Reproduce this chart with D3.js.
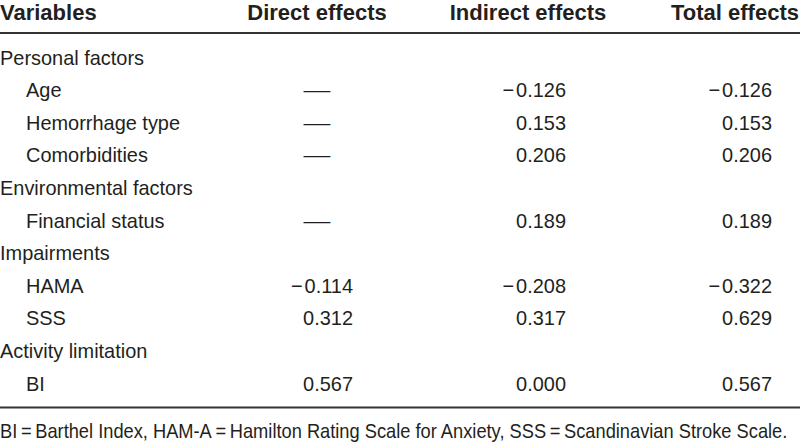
<!DOCTYPE html>
<html><head><meta charset="utf-8">
<script src="https://cdn.jsdelivr.net/npm/d3@7"></script>
<style>
body{margin:0;background:#fff;}
svg text{font-family:"Liberation Sans",Arial,sans-serif;fill:#231f20;}
</style></head>
<body><svg id="c" width="800" height="447"></svg>
<script>
const headers = ["Variables", "Direct effects", "Indirect effects", "Total effects"];
const rowLabels = ["Personal factors", "Age", "Hemorrhage type", "Comorbidities", "Environmental factors", "Financial status", "Impairments", "HAMA", "SSS", "Activity limitation", "BI"];
const isGroup = [true, false, false, false, true, false, true, false, false, true, false];
const directEffects = [null, "—", "—", "—", null, "—", null, "−0.114", "0.312", null, "0.567"];
const indirectEffects = [null, "−0.126", "0.153", "0.206", null, "0.189", null, "−0.208", "0.317", null, "0.000"];
const totalEffects = [null, "−0.126", "0.153", "0.206", null, "0.189", null, "−0.322", "0.629", null, "0.567"];
const footnote = "BI\u2009=\u2009Barthel Index, HAM-A\u2009=\u2009Hamilton Rating Scale for Anxiety, SSS\u2009=\u2009Scandinavian Stroke Scale.";

const svg = d3.select("#c");
const y = d3.scaleLinear().domain([0, rowLabels.length - 1]).range([64.5, 390.5]);
const colCenter = d3.scaleOrdinal().domain([1, 2, 3]).range([317, 528, 735]);
const colRight = d3.scaleOrdinal().domain([1, 2, 3]).range([353, 566, 772]);
const fs = 21, sx = 0.95;

// header
svg.selectAll("text.h").data(headers).join("text").attr("class", "h")
  .attr("x", (d, i) => i === 0 ? 0 : colCenter(i))
  .attr("y", 20)
  .attr("text-anchor", (d, i) => i === 0 ? "start" : "middle")
  .style("font-weight", "bold").style("font-size", "22px")
  .text(d => d);

svg.append("line").attr("x1", 0).attr("x2", 800).attr("y1", 33).attr("y2", 33)
  .attr("stroke", "#333").attr("stroke-width", 2);
svg.append("line").attr("x1", 0).attr("x2", 800).attr("y1", 407.5).attr("y2", 407.5)
  .attr("stroke", "#333").attr("stroke-width", 2);

svg.selectAll("text.r").data(rowLabels).join("text").attr("class", "r")
  .attr("transform", (d, i) => `translate(${isGroup[i] ? 0 : 26},${y(i)}) scale(${sx},1)`)
  .style("font-size", fs + "px")
  .text(d => d);

[directEffects, indirectEffects, totalEffects].forEach((vals, k) => {
  const col = k + 1;
  vals.forEach((v, i) => {
    if (v === null) return;
    if (v === "—") {
      svg.append("text").attr("transform", `translate(${colCenter(col)},${y(i)}) scale(1.28,1)`)
        .attr("text-anchor", "middle").style("font-size", fs + "px").text(v);
    } else {
      const t = svg.append("text").attr("transform", `translate(${colRight(col)},${y(i)}) scale(${sx},1)`)
        .attr("text-anchor", "end").style("font-size", fs + "px");
      if (v.startsWith("−")) {
        t.append("tspan").text("−");
        t.append("tspan").attr("dx", 2).text(v.slice(1));
      } else {
        t.text(v);
      }
    }
  });
});

const fn = svg.append("text").style("font-size", "20px").text(footnote);
const natural = fn.node().getComputedTextLength();
fn.attr("transform", `translate(0,438) scale(${788 / natural},1)`);
</script></body></html>
